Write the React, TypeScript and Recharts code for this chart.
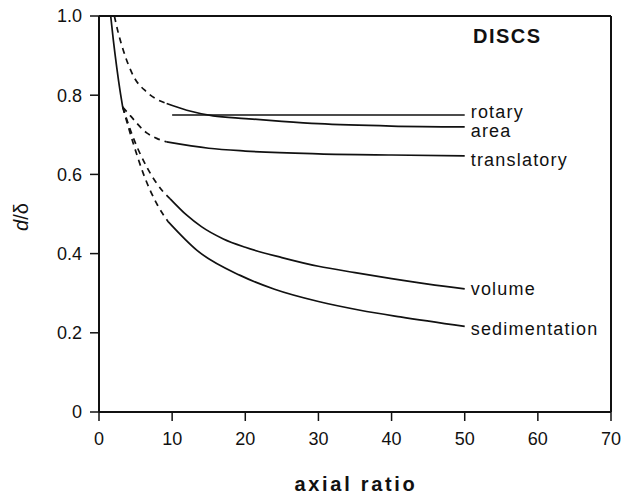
import { LineChart, Line, XAxis, YAxis, ReferenceDot, Customized } from 'recharts'

// axial ratio vs d/δ for discs
const xTicks = [0, 10, 20, 30, 40, 50, 60, 70]
const yTicks = [0, 0.2, 0.4, 0.6, 0.8, 1.0]

type Pt = [number, number]

// shared steep start near a sphere
const commonStart: Pt[] = [[1.6, 1.0], [1.96, 0.939], [2.42, 0.871], [2.87, 0.812], [3.24, 0.77]]

const areaDashed: Pt[] = [[2.1, 1.0], [2.6, 0.96], [3.33, 0.913], [4.69, 0.849], [6.52, 0.808], [9.25, 0.779]]
const areaSolid: Pt[] = [[9.25, 0.779], [12, 0.762], [15.6, 0.748], [20, 0.741], [25, 0.734], [30, 0.728], [40, 0.722], [50, 0.72]]

const rotary: Pt[] = [[10, 0.75], [50, 0.75]]

const translDashed: Pt[] = [[3.24, 0.77], [4.24, 0.749], [6.52, 0.705], [7.89, 0.691], [9.25, 0.682]]
const translSolid: Pt[] = [[9.25, 0.682], [15, 0.666], [20, 0.659], [30, 0.652], [40, 0.649], [50, 0.647]]

const volumeDashed: Pt[] = [[3.24, 0.77], [4.47, 0.703], [6.52, 0.619], [8.79, 0.556], [9.7, 0.539]]
const volumeSolid: Pt[] = [[9.7, 0.539], [12, 0.497], [14, 0.468], [17, 0.437], [20, 0.416], [25, 0.39], [30, 0.368], [35, 0.352], [40, 0.337], [45, 0.323], [50, 0.311]]

const sedDashed: Pt[] = [[3.24, 0.77], [4.69, 0.678], [6.06, 0.602], [7.89, 0.526], [9.48, 0.48]]
const sedSolid: Pt[] = [[9.48, 0.48], [13.4, 0.408], [19.3, 0.345], [24, 0.31], [30, 0.279], [35.7, 0.257], [41.2, 0.24], [50, 0.216]]

const endLabels: { text: string; pt: Pt; dy: number }[] = [
  { text: 'rotary', pt: rotary[rotary.length - 1], dy: 3 },
  { text: 'area', pt: areaSolid[areaSolid.length - 1], dy: 10 },
  { text: 'translatory', pt: translSolid[translSolid.length - 1], dy: 10 },
  { text: 'volume', pt: volumeSolid[volumeSolid.length - 1], dy: 6 },
  { text: 'sedimentation', pt: sedSolid[sedSolid.length - 1], dy: 9 },
]

const FONT = '"Liberation Sans", Arial, Helvetica, sans-serif'
const INK = '#111'

const toData = (a: Pt[]) => a.map(([x, y]) => ({ x, y }))

const segments: { key: string; pts: Pt[]; dashed: boolean; linear?: boolean }[] = [
  { key: 'start', pts: commonStart, dashed: false },
  { key: 'areaD', pts: areaDashed, dashed: true },
  { key: 'areaS', pts: areaSolid, dashed: false },
  { key: 'rotary', pts: rotary, dashed: false, linear: true },
  { key: 'translD', pts: translDashed, dashed: true },
  { key: 'translS', pts: translSolid, dashed: false },
  { key: 'volD', pts: volumeDashed, dashed: true },
  { key: 'volS', pts: volumeSolid, dashed: false },
  { key: 'sedD', pts: sedDashed, dashed: true },
  { key: 'sedS', pts: sedSolid, dashed: false },
]

const tickText = { fill: INK, fontSize: 18, fontFamily: FONT }
const noLabel = () => ''

export default function App() {
  return (
    <div style={{ position: 'absolute', left: 0, top: 0, background: '#fff' }}>
      <LineChart width={623} height={497} margin={{ top: 0, right: 0, bottom: 0, left: 0 }}>
        <XAxis
          xAxisId="b"
          dataKey="x"
          type="number"
          domain={[0, 70]}
          ticks={xTicks}
          allowDataOverflow
          height={85}
          tickSize={9}
          tickMargin={11}
          tick={tickText}
          axisLine={{ stroke: INK, strokeWidth: 2 }}
          tickLine={{ stroke: INK, strokeWidth: 1.5 }}
          label={{
            content: (p: any) => (
              <text
                x={p.viewBox.x + p.viewBox.width / 2 + 1}
                y={p.viewBox.y + 79}
                textAnchor="middle"
                fontFamily={FONT}
                fontWeight="bold"
                fontSize={20}
                letterSpacing={2.7}
                fill={INK}
              >
                axial ratio
              </text>
            ),
          }}
        />
        <XAxis
          xAxisId="t"
          orientation="top"
          dataKey="x"
          type="number"
          domain={[0, 70]}
          ticks={xTicks}
          height={16}
          tickSize={9}
          tickFormatter={noLabel}
          axisLine={{ stroke: INK, strokeWidth: 2 }}
          tickLine={{ stroke: INK, strokeWidth: 1.5 }}
        />
        <YAxis
          yAxisId="l"
          type="number"
          domain={[0, 1]}
          ticks={yTicks}
          width={99}
          tickSize={9}
          tickMargin={8}
          tick={tickText}
          tickFormatter={(v: number) => (v === 0 ? '0' : v.toFixed(1))}
          axisLine={{ stroke: INK, strokeWidth: 2 }}
          tickLine={{ stroke: INK, strokeWidth: 1.5 }}
          label={{
            content: () => (
              <text
                transform="rotate(-90, 28, 217)"
                x={28}
                y={217}
                textAnchor="middle"
                fontFamily={FONT}
                fontSize={20}
                fill={INK}
              >
                <tspan fontStyle="italic">d</tspan>/δ
              </text>
            ),
          }}
        />
        <YAxis
          yAxisId="r"
          orientation="right"
          type="number"
          domain={[0, 1]}
          ticks={yTicks}
          width={12}
          tickSize={9}
          tickFormatter={noLabel}
          axisLine={{ stroke: INK, strokeWidth: 2 }}
          tickLine={{ stroke: INK, strokeWidth: 1.5 }}
        />
        {segments.map(s => (
          <Line
            key={s.key}
            xAxisId="b"
            yAxisId="l"
            data={toData(s.pts)}
            dataKey="y"
            type={s.linear ? 'linear' : 'monotone'}
            stroke={INK}
            strokeWidth={1.7}
            strokeDasharray={s.dashed ? '6 5' : undefined}
            dot={false}
            activeDot={false}
            isAnimationActive={false}
          />
        ))}
        {endLabels.map(l => (
          <ReferenceDot
            key={l.text}
            xAxisId="b"
            yAxisId="l"
            x={l.pt[0]}
            y={l.pt[1]}
            r={1}
            fill="none"
            stroke="none"
            label={{
              content: (p: any) => (
                <text
                  x={p.viewBox.x + p.viewBox.width / 2 + 6}
                  y={p.viewBox.y + p.viewBox.height / 2 + l.dy}
                  fontFamily={FONT}
                  fontSize={18}
                  letterSpacing={1.2}
                  fill={INK}
                >
                  {l.text}
                </text>
              ),
            }}
          />
        ))}
        <Customized
          component={() => (
            <text x={473} y={43} fontFamily={FONT} fontWeight="bold" fontSize={20} letterSpacing={1.5} fill={INK}>
              DISCS
            </text>
          )}
        />
      </LineChart>
    </div>
  )
}
